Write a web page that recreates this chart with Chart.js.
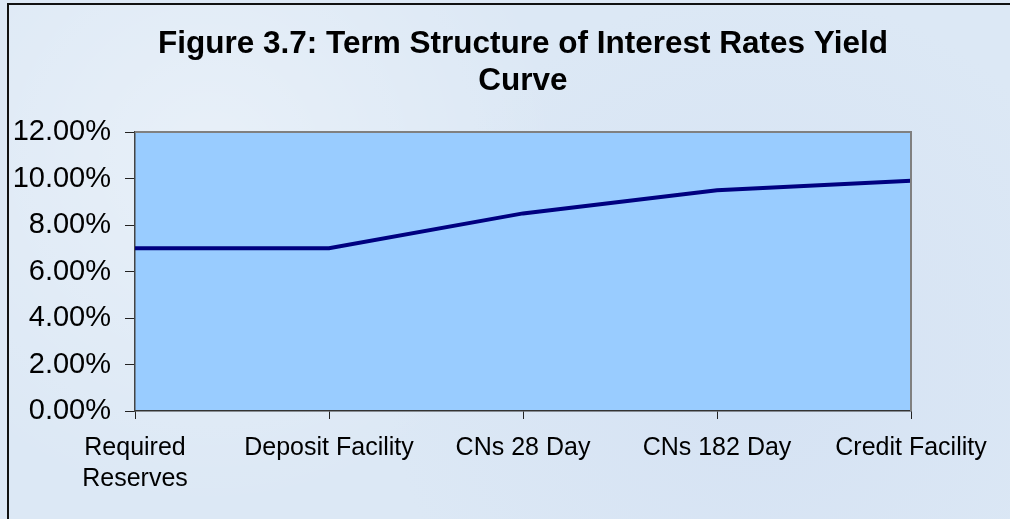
<!DOCTYPE html>
<html>
<head>
<meta charset="utf-8">
<script src="https://cdn.jsdelivr.net/npm/chart.js@4.4.1/dist/chart.umd.min.js"></script>
<style>
  html, body {
    margin: 0;
    padding: 0;
    width: 1010px;
    height: 519px;
    overflow: hidden;
    background: #dde8f5;
  }
  #frame {
    position: absolute;
    left: 7px;
    top: 3px;
    width: 1003px;
    height: 516px;
    border-left: 2px solid #111;
    border-top: 2px solid #111;
    box-sizing: border-box;
    background:
      radial-gradient(circle at 20% 30%, rgba(255,255,255,0.35), rgba(255,255,255,0) 40%),
      radial-gradient(circle at 75% 70%, rgba(200,215,240,0.35), rgba(255,255,255,0) 45%),
      #dce8f5;
  }
  #wrap {
    position: absolute;
    left: 0;
    top: 0;
    width: 1010px;
    height: 519px;
  }
</style>
</head>
<body>
<div id="frame"></div>
<div id="wrap"><canvas id="chart" width="1010" height="519"></canvas></div>
<script>
const TITLE_LINES = ['Figure 3.7: Term Structure of Interest Rates Yield', 'Curve']

const CATEGORIES = [
  ['Required', 'Reserves'],
  'Deposit Facility',
  'CNs 28 Day',
  'CNs 182 Day',
  'Credit Facility',
]

// yield in percent
const YIELDS = [7.0, 7.0, 8.5, 9.5, 9.9]

const Y_MIN = 0
const Y_MAX = 12
const Y_STEP = 2

const LINE_COLOR = '#000080'
const PLOT_FILL = '#99ccff'
const PLOT_BORDER = '#808080'
const FONT = "'Liberation Sans', Arial, sans-serif"

// plot box in the original: left 135, right 911, top 132, bottom 411
const Y_AXIS_WIDTH = 135
const X_AXIS_HEIGHT = 519 - 411
const X_RIGHT_GAP = 1010 - 911

const plotBackground = {
  id: 'plotBackground',
  beforeDraw(chart) {
    const { ctx, chartArea } = chart
    ctx.save()
    ctx.fillStyle = PLOT_FILL
    ctx.fillRect(chartArea.left, chartArea.top, chartArea.right - chartArea.left, chartArea.bottom - chartArea.top)
    ctx.restore()
  },
  afterDatasetsDraw(chart) {
    const { ctx, chartArea } = chart
    ctx.save()
    ctx.strokeStyle = PLOT_BORDER
    ctx.lineWidth = 2
    ctx.beginPath()
    ctx.moveTo(chartArea.left, chartArea.top)
    ctx.lineTo(chartArea.right, chartArea.top)
    ctx.lineTo(chartArea.right, chartArea.bottom)
    ctx.stroke()
    ctx.restore()
  },
}

const chart = new Chart(document.getElementById('chart'), {
  type: 'line',
  data: {
    labels: CATEGORIES,
    datasets: [
      {
        label: 'Yield',
        data: YIELDS,
        borderColor: LINE_COLOR,
        borderWidth: 4,
        pointRadius: 0,
        tension: 0,
        fill: false,
      },
    ],
  },
  options: {
    responsive: false,
    animation: false,
    layout: {
      padding: 0,
    },
    plugins: {
      legend: { display: false },
      tooltip: { enabled: false },
      title: {
        display: true,
        fullSize: false,
        text: TITLE_LINES,
        color: '#000',
        font: { family: FONT, size: 31.5, weight: 'bold', lineHeight: 1.175 },
        padding: { top: 26, bottom: 32 },
      },
    },
    scales: {
      x: {
        offset: false,
        afterFit(scale) {
          scale.height = X_AXIS_HEIGHT
          scale.paddingRight = X_RIGHT_GAP
        },
        grid: {
          drawOnChartArea: false,
          drawTicks: true,
          tickLength: 8,
          color: '#222',
        },
        border: { display: true, color: '#333', width: 1.5 },
        ticks: {
          color: '#000',
          autoSkip: false,
          maxRotation: 0,
          padding: 13,
          font: { family: FONT, size: 25, lineHeight: 1.25 },
        },
      },
      y: {
        min: Y_MIN,
        max: Y_MAX,
        afterFit(scale) {
          scale.width = Y_AXIS_WIDTH
        },
        grid: {
          drawOnChartArea: false,
          drawTicks: true,
          tickLength: 10,
          color: '#222',
        },
        border: { display: true, color: '#444', width: 1.5 },
        ticks: {
          stepSize: Y_STEP,
          color: '#000',
          padding: 14,
          font: { family: FONT, size: 29 },
          callback: (value) => `${value.toFixed(2)}%`,
        },
      },
    },
  },
  plugins: [plotBackground],
})
</script>
</body>
</html>
